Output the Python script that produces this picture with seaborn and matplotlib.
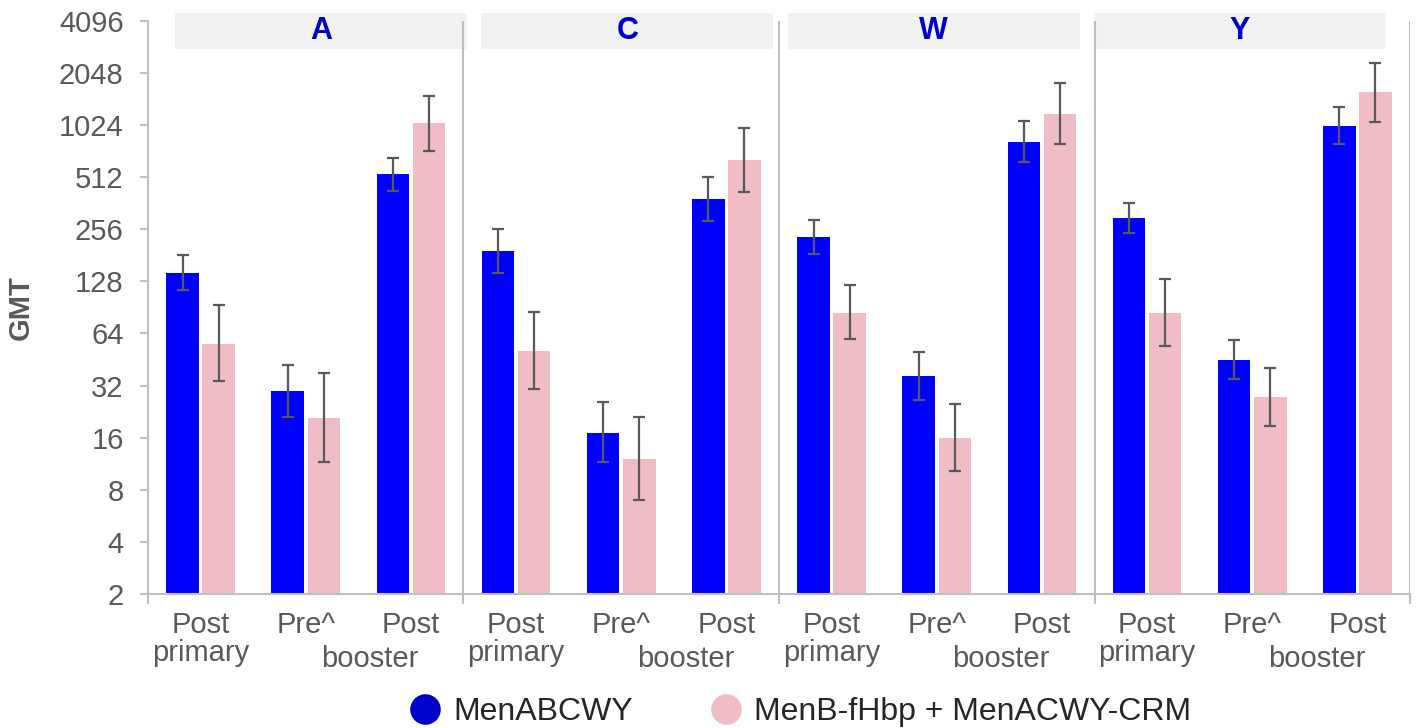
import numpy as np
import pandas as pd
import seaborn as sns
import matplotlib.pyplot as plt
from matplotlib.lines import Line2D
from matplotlib.patches import Rectangle

serogroups = ['A', 'C', 'W', 'Y']
timepoints = ['Post primary', 'Pre^', 'Post booster']
tick_labels = ['Post\nprimary', 'Pre^', 'Post']
vaccines = ['MenABCWY', 'MenB-fHbp + MenACWY-CRM']

# GMT and 95% CI, order: A, C, W, Y x (post primary, pre, post booster)
menabcwy_gmt = [143.5, 29.8, 531, 191.5, 17.0, 382, 230.7, 36.3, 819, 297, 45.1, 1009]
menabcwy_lo = [114, 21.1, 427, 143, 11.5, 286, 184, 26.4, 626, 243, 34.8, 795]
menabcwy_hi = [180.8, 41.9, 659, 257.6, 25.6, 514, 289, 50.2, 1079, 364, 58.9, 1294]
comp_gmt = [55.8, 20.9, 1046, 50.6, 12.0, 640, 84.3, 15.9, 1184, 83.9, 27.4, 1580]
comp_lo = [34, 11.6, 727, 30.4, 7.0, 421, 59.2, 10.2, 795, 54.1, 18.7, 1065]
comp_hi = [93, 37.9, 1498, 85.4, 21.0, 983, 122, 25.0, 1788, 132.5, 40.2, 2343]

yticks = [2, 4, 8, 16, 32, 64, 128, 256, 512, 1024, 2048, 4096]

bar_colors = ['#0000FF', '#F0BCC6']
legend_colors = ['#0000CC', '#F0BCC6']
grey = '#595959'
axis_grey = '#BFBFBF'

cats = [f'{s}|{t}' for s in serogroups for t in timepoints]
rows = []
for v, (g, lo, hi) in zip(vaccines, [(menabcwy_gmt, menabcwy_lo, menabcwy_hi),
                                     (comp_gmt, comp_lo, comp_hi)]):
    for c, a, b, d in zip(cats, g, lo, hi):
        rows.append({'cat': c, 'vaccine': v, 'gmt': a, 'lo': b, 'hi': d})
df = pd.DataFrame(rows)

sns.set_style('white')
plt.rcParams['font.family'] = ['Liberation Sans', 'DejaVu Sans']

fig = plt.figure(figsize=(14.16, 7.28), dpi=100)
ax = fig.add_axes([148 / 1416, 1 - 594 / 728, 1262 / 1416, 573.3 / 728])

sns.barplot(data=df, x='cat', y='gmt', hue='vaccine', order=cats,
            hue_order=vaccines, palette=bar_colors, saturation=1, width=0.686,
            gap=0.1, errorbar=None, linewidth=0, legend=False, ax=ax)
ax.set_yscale('log', base=2)

# error bars from CI columns
bar_conts = list(ax.containers)
for k, cont in enumerate(bar_conts):
    sub = df[df['vaccine'] == vaccines[k]].set_index('cat')
    xs, ys, lo_e, hi_e = [], [], [], []
    for p in cont:
        xc = p.get_x() + p.get_width() / 2
        r = sub.loc[cats[int(round(xc))]]
        xs.append(xc)
        ys.append(r['gmt'])
        lo_e.append(r['gmt'] - r['lo'])
        hi_e.append(r['hi'] - r['gmt'])
    ax.errorbar(xs, ys, yerr=[lo_e, hi_e], fmt='none', ecolor=grey,
                elinewidth=1.6, capsize=4.5, capthick=1.6, zorder=5)

ax.set_ylim(2, 4096)
ax.set_xlim(-0.5, 11.5)
ax.set_yticks(yticks)
ax.set_yticklabels([str(t) for t in yticks])
ax.yaxis.set_minor_locator(plt.NullLocator())
ax.tick_params(axis='y', which='major', length=5.5, width=1.5, color=axis_grey,
               labelsize=21, labelcolor=grey, pad=12, left=True)

ax.set_xticks(range(12))
ax.set_xticklabels(tick_labels * 4, linespacing=1.0)
ax.set_xticks([-0.5, 2.5, 5.5, 8.5, 11.5], minor=True)
ax.tick_params(axis='x', which='major', length=0, labelsize=21,
               labelcolor=grey, pad=12)
ax.tick_params(axis='x', which='minor', length=7, width=1.5, color=axis_grey,
               bottom=True)
ax.set_xlabel('')

for i in range(4):
    ax.text(3 * i + 2 - 0.39, -0.089, 'booster', transform=ax.get_xaxis_transform(),
            ha='center', va='top', fontsize=21, color=grey)

for sp in ['top', 'right']:
    ax.spines[sp].set_visible(False)
for sp in ['left', 'bottom']:
    ax.spines[sp].set_color(axis_grey)
    ax.spines[sp].set_linewidth(1.5)

for xs in [2.5, 5.5, 8.5, 11.5]:
    ax.axvline(xs, color=axis_grey, lw=1.5, zorder=6)

# panel strips
for i, s in enumerate(serogroups):
    x0 = 0.0214 + i * 0.2427
    ax.add_patch(Rectangle((x0, 0.9506), 0.2314, 0.0628, transform=ax.transAxes,
                           facecolor='#F2F2F2', edgecolor='none', clip_on=False,
                           zorder=1))
    ax.text(x0 + 0.2314 / 2, 0.982, s, transform=ax.transAxes, ha='center',
            va='center', fontsize=22, fontweight='bold', color='#0000CC', zorder=7)

ax.set_ylabel('GMT', fontsize=21, fontweight='bold', color=grey)
ax.yaxis.set_label_coords((35 - 148) / 1262, 0.5)

handles = [Line2D([], [], marker='o', linestyle='none', markersize=22,
                  markerfacecolor=c, markeredgecolor='none') for c in legend_colors]
fig.legend(handles, vaccines, loc='center', bbox_to_anchor=(800 / 1416, 0.022),
           ncol=2, frameon=False, fontsize=23, handlelength=1.0,
           handletextpad=0.4, columnspacing=2.4, borderpad=0)

plt.savefig('out.png', dpi=100)
